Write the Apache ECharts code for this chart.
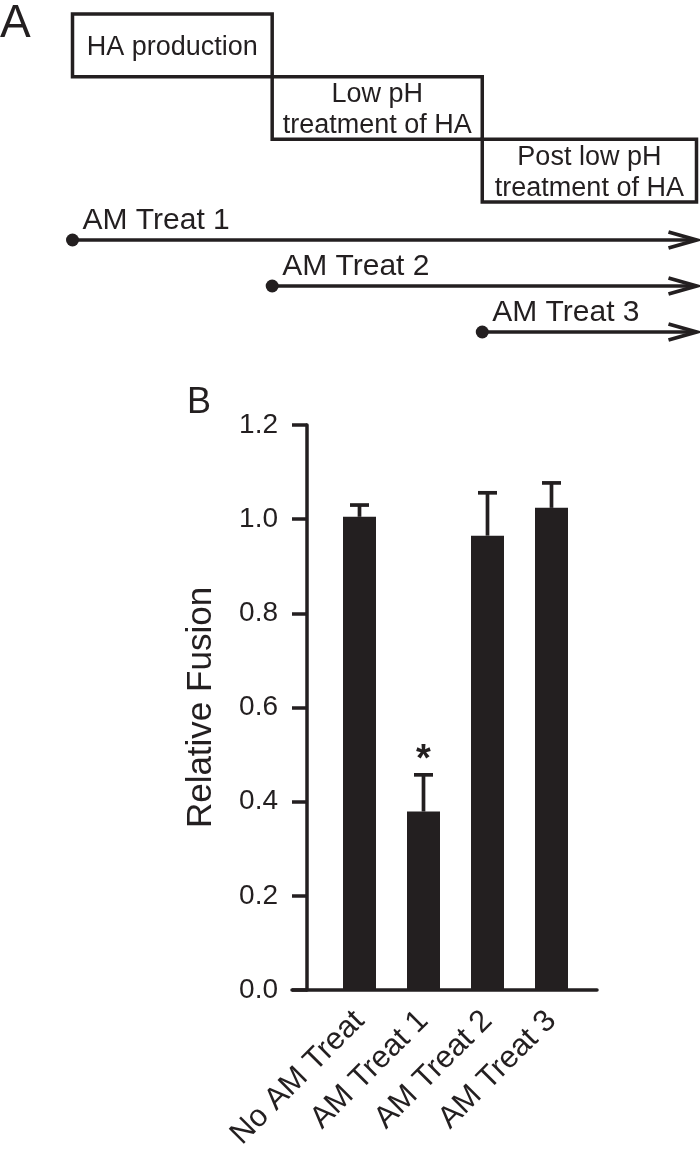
<!DOCTYPE html>
<html>
<head>
<meta charset="utf-8">
<script src="https://cdn.jsdelivr.net/npm/echarts@6/dist/echarts.min.js"></script>
<style>html,body{margin:0;padding:0;background:#fff;}#c{width:700px;height:1159px;}</style>
</head>
<body>
<div id="c"></div>
<script>
// Panel A: schematic timeline (stage boundaries on a 0..3 time scale)
const stageNames = ['HA production', 'Low pH\ntreatment of HA', 'Post low pH\ntreatment of HA'];
const stageStart = [0, 0.96, 1.97];
const stageEnd = [0.96, 1.97, 3];
const treatNames = ['AM Treat 1', 'AM Treat 2', 'AM Treat 3'];
const treatStart = [0, 0.96, 1.97];
const treatEnd = [3, 3, 3];

// Panel B: bar chart
const categories = ['No AM Treat', 'AM Treat 1', 'AM Treat 2', 'AM Treat 3'];
const fusion = [1.005, 0.379, 0.965, 1.024];
const sem = [0.025, 0.078, 0.091, 0.053];
const significance = ['', '*', '', ''];
const yTickLabels = ['0.0', '0.2', '0.4', '0.6', '0.8', '1.0', '1.2'];

const INK = '#231f20';
const FONT = '"Liberation Sans", Arial, Helvetica, sans-serif';

const chart = echarts.init(document.getElementById('c'), null, {renderer: 'canvas'});

const option = {
  backgroundColor: '#ffffff',
  animation: false,
  title: [
    {text: 'A', left: 0, top: 1, padding: 0, textStyle: {fontFamily: FONT, fontSize: 46, fontWeight: 'normal', color: INK}},
    {text: 'B', left: 187, top: 385, padding: 0, textStyle: {fontFamily: FONT, fontSize: 36, fontWeight: 'normal', color: INK}}
  ],
  grid: [
    {left: 72.5, width: 624, top: 14, height: 188},
    {left: 72.5, width: 624, top: 217, height: 138},
    {left: 327.5, width: 256, top: 425, height: 565},
    {left: 292, width: 305, top: 425, height: 565}
  ],
  xAxis: [
    {gridIndex: 0, type: 'value', min: 0, max: 3, show: false},
    {gridIndex: 1, type: 'value', min: 0, max: 3, show: false},
    {gridIndex: 2, type: 'category', data: categories,
      axisLine: {show: false}, axisTick: {show: false},
      axisLabel: {rotate: 45, margin: 26, fontFamily: FONT, fontSize: 31, color: INK, interval: 0}},
    {gridIndex: 3, type: 'value', min: 0, max: 1,
      axisLine: {show: true, lineStyle: {color: INK, width: 3.5}},
      axisTick: {show: false}, axisLabel: {show: false}, splitLine: {show: false}}
  ],
  yAxis: [
    {gridIndex: 0, type: 'category', data: stageNames, inverse: true, show: false},
    {gridIndex: 1, type: 'category', data: treatNames, inverse: true, show: false},
    {gridIndex: 2, type: 'value', min: 0, max: 1.2, interval: 0.2, offset: 20.5,
      name: 'Relative Fusion', nameLocation: 'middle', nameGap: 88,
      nameTextStyle: {fontFamily: FONT, fontSize: 35, color: INK},
      axisLine: {show: true, lineStyle: {color: INK, width: 3.5}},
      axisTick: {show: true, length: 15, lineStyle: {color: INK, width: 3.5}},
      axisLabel: {margin: 29, fontFamily: FONT, fontSize: 28, color: INK,
        formatter: function (v) { return yTickLabels[Math.round(v / 0.2)]; }},
      splitLine: {show: false}},
    {gridIndex: 3, type: 'value', min: 0, max: 1.2, show: false}
  ],
  series: [
    {
      type: 'custom', xAxisIndex: 0, yAxisIndex: 0,
      data: stageNames.map((n, i) => [stageStart[i], stageEnd[i], i]),
      encode: {x: [0, 1], y: 2},
      renderItem: function (params, api) {
        const p0 = api.coord([api.value(0), api.value(2)]);
        const p1 = api.coord([api.value(1), api.value(2)]);
        const h = api.size([0, 1])[1];
        return {type: 'group', children: [
          {type: 'rect', shape: {x: p0[0], y: p0[1] - h / 2, width: p1[0] - p0[0], height: h},
            style: {fill: 'none', stroke: INK, lineWidth: 3.5}},
          {type: 'text', x: (p0[0] + p1[0]) / 2, y: p0[1] + 2,
            style: {text: stageNames[params.dataIndex], align: 'center', verticalAlign: 'middle',
              fontFamily: FONT, fontSize: 27, lineHeight: 31, fill: INK}}
        ]};
      }
    },
    {
      type: 'custom', xAxisIndex: 1, yAxisIndex: 1,
      data: treatNames.map((n, i) => [treatStart[i], treatEnd[i], i]),
      encode: {x: [0, 1], y: 2},
      renderItem: function (params, api) {
        const p0 = api.coord([api.value(0), api.value(2)]);
        const p1 = api.coord([api.value(1), api.value(2)]);
        const y = p0[1];
        return {type: 'group', children: [
          {type: 'line', shape: {x1: p0[0], y1: y, x2: p1[0] - 1, y2: y},
            style: {stroke: INK, lineWidth: 3.5}},
          {type: 'polyline', shape: {points: [[p1[0] - 28, y - 8], [p1[0], y], [p1[0] - 28, y + 8]]},
            style: {stroke: INK, lineWidth: 3.8, fill: 'none', lineJoin: 'miter'}},
          {type: 'circle', shape: {cx: p0[0], cy: y, r: 6.5}, style: {fill: INK}},
          {type: 'text', x: p0[0] + 10, y: y - 19,
            style: {text: treatNames[params.dataIndex], align: 'left', verticalAlign: 'middle',
              fontFamily: FONT, fontSize: 30, fill: INK}}
        ]};
      }
    },
    {
      type: 'bar', xAxisIndex: 2, yAxisIndex: 2,
      data: fusion, barWidth: 33,
      itemStyle: {color: INK}
    },
    {
      type: 'custom', xAxisIndex: 2, yAxisIndex: 2, z: 5,
      data: categories.map((c, i) => [i, fusion[i], fusion[i] + sem[i]]),
      encode: {x: 0, y: [1, 2]},
      renderItem: function (params, api) {
        const pb = api.coord([api.value(0), api.value(1)]);
        const pt = api.coord([api.value(0), api.value(2)]);
        const x = pb[0];
        const children = [
          {type: 'line', shape: {x1: x, y1: pb[1], x2: x, y2: pt[1]}, style: {stroke: INK, lineWidth: 3.7}},
          {type: 'line', shape: {x1: x - 9.5, y1: pt[1], x2: x + 9.5, y2: pt[1]}, style: {stroke: INK, lineWidth: 3.7}}
        ];
        const s = significance[params.dataIndex];
        if (s) {
          children.push({type: 'text', x: x, y: pt[1] - 14,
            style: {text: s, align: 'center', verticalAlign: 'middle', fontFamily: FONT, fontSize: 38, fontWeight: 'bold', fill: INK}});
        }
        return {type: 'group', children: children};
      }
    }
  ]
};
chart.setOption(option);
</script>
</body>
</html>
